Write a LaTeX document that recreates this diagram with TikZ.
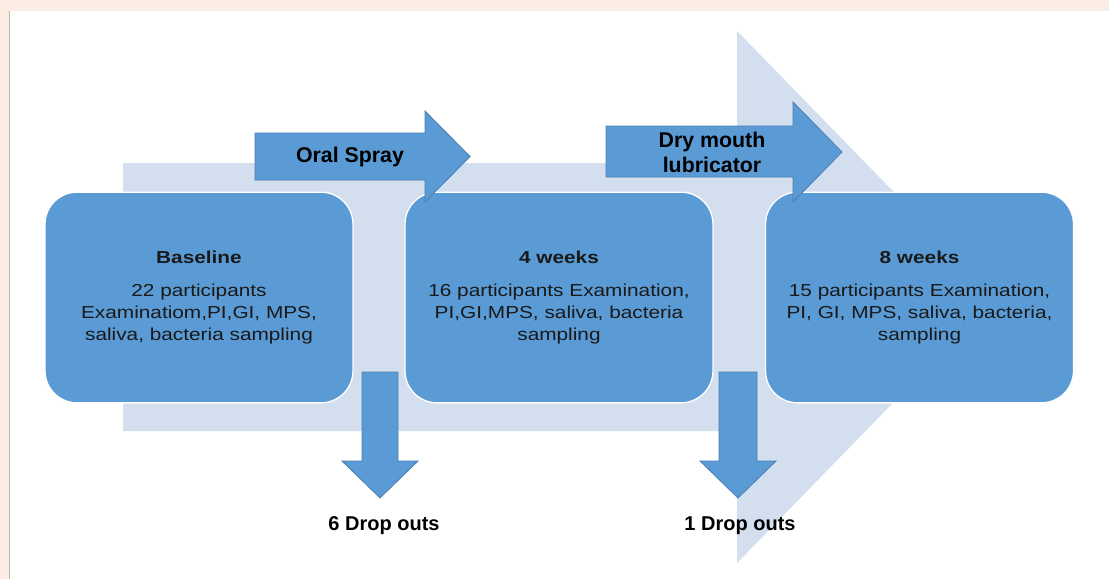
\documentclass[tikz,border=0pt]{standalone}
\usepackage{fontspec}
\setmainfont{Liberation Sans}
\newfontfamily\boxfont{Liberation Sans}[FakeStretch=1.2]
\usepackage{tikz}
\usetikzlibrary{positioning}

\definecolor{pagebg}{HTML}{FBEDE3}
\definecolor{pageline}{HTML}{C4B8AF}
\definecolor{flowbg}{HTML}{D3DEEE}
\definecolor{stagefill}{HTML}{5B9BD5}
\definecolor{arrowedge}{HTML}{4A7EB5}

\begin{document}
\begin{tikzpicture}[x=0.75pt,y=-0.75pt]
  \tikzstyle{stage}=[rectangle,rounded corners=24pt,fill=stagefill,draw=white,
                     line width=1pt,minimum width=231pt,minimum height=158pt,
                     align=center,text=black!90,
                     font=\boxfont\fontsize{13}{16.3}\selectfont]
  \tikzstyle{blockarrow}=[fill=stagefill,draw=arrowedge,line width=0.6pt,line join=miter]
  \tikzstyle{armlabel}=[font=\bfseries\fontsize{16}{18.75}\selectfont,align=center,inner sep=0pt]
  \tikzstyle{droplabel}=[font=\bfseries\fontsize{15}{18}\selectfont,inner sep=0pt,anchor=base]

  \useasboundingbox (0,0) rectangle (1109,579);
  % page frame
  \fill[pagebg] (0,0) rectangle (1109,579);
  \fill[white] (10,11) rectangle (1109,579);
  \draw[pageline,line width=0.8pt] (9.5,11) -- (9.5,579);

  % big background arrow
  \fill[flowbg] (123,163) -- (737,163) -- (737,31) -- (996,297) -- (737,563)
                -- (737,431) -- (123,431) -- cycle;

  % stages
  \node[stage] (base) at (199,297.5) {\textbf{Baseline}\\[8.5pt]
    22 participants\\Examinatiom,PI,GI, MPS,\\saliva, bacteria sampling};
  \node[stage] (wk4) at (559,297.5) {\textbf{4 weeks}\\[8.5pt]
    16 participants Examination,\\PI,GI,MPS, saliva, bacteria\\sampling};
  \node[stage] (wk8) at (919.5,297.5) {\textbf{8 weeks}\\[8.5pt]
    15 participants Examination,\\PI, GI, MPS, saliva, bacteria,\\sampling};

  % treatment arrows
  \filldraw[blockarrow] (255,133) -- (425,133) -- (425,111) -- (470,156.5)
                        -- (425,202) -- (425,180) -- (255,180) -- cycle;
  \node[armlabel] (spray) at (350,157) {Oral Spray};
  \filldraw[blockarrow] (606,126) -- (793,126) -- (793,102) -- (842,152)
                        -- (793,202) -- (793,177) -- (606,177) -- cycle;
  \node[armlabel] (lubr) at (712,152) {Dry mouth\\lubricator};

  % drop outs
  \filldraw[blockarrow] (362,372) -- (398,372) -- (398,461) -- (418,461)
                        -- (380,498) -- (342,461) -- (362,461) -- cycle;
  \filldraw[blockarrow] (719,372) -- (757,372) -- (757,461) -- (776,461)
                        -- (738,498) -- (700,461) -- (719,461) -- cycle;
  \node[droplabel] (drop1) at (384,530) {6 Drop outs};
  \node[droplabel] (drop2) at (740,530) {1 Drop outs};
\end{tikzpicture}
\end{document}
